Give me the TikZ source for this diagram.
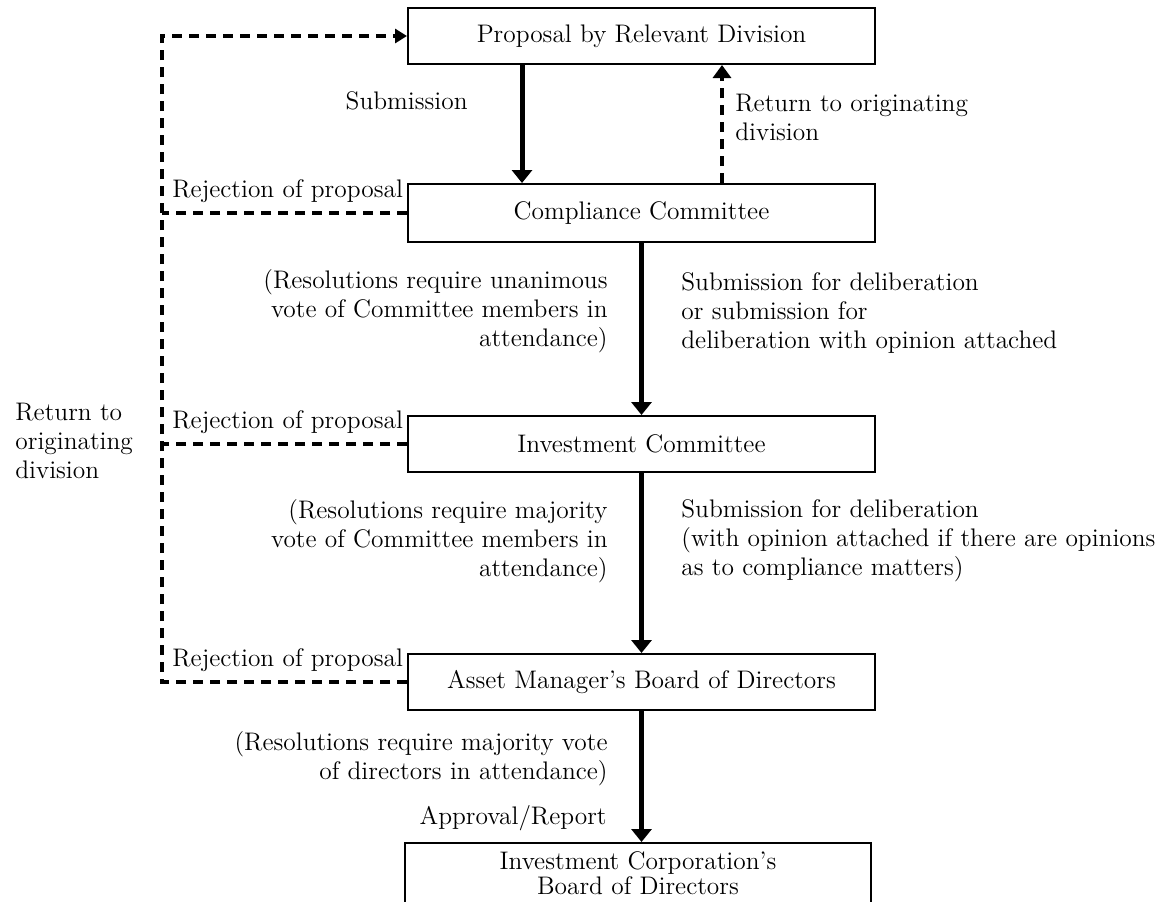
\documentclass[tikz,border=0pt]{standalone}
\usetikzlibrary{arrows.meta}
\begin{document}
\begin{tikzpicture}[x=0.5pt, y=-0.5pt, every node/.style={font=\fontsize{12.7}{14.5}\selectfont}, stage/.style={draw, line width=1pt, minimum width=233.5pt, minimum height=28pt, inner sep=0pt, align=center}, pass/.style={-{Triangle[width=10pt,length=6.5pt]}, line width=2.5pt}, reject/.style={line width=2pt, dash pattern=on 5pt off 3.5pt}, note/.style={inner sep=0pt}]
\useasboundingbox (0,0) rectangle (1166,901); \clip (0,0) rectangle (1166,901);
\node[stage] (prop) at (641.5,36) {Proposal by Relevant Division};
\node[stage, minimum height=29pt] (comp) at (641.5,213) {Compliance Committee};
\node[stage] (inv) at (641.5,444) {Investment Committee};
\node[stage] (amb) at (641.5,682) {Asset Manager's Board of Directors};
\node[stage, minimum width=233pt, minimum height=30pt] (icb) at (638,873) {Investment Corporation's\\[-2pt]Board of Directors};
\draw[pass] ([xshift=-59.75pt]prop.south) -- ([xshift=-59.75pt]comp.north);
\draw[pass] (comp) -- (inv); \draw[pass] (inv) -- (amb);
\draw[pass] (amb.south) -- (amb.south |- icb.north);
\draw[reject, -{Triangle[width=9pt,length=6.5pt]}] ([xshift=40.25pt]comp.north) -- ([xshift=40.25pt]prop.south);
\coordinate (corner) at (162,36);
\draw[reject, -{Triangle[width=7pt,length=6pt]}] (amb.west) -| (corner) -- (prop.west);
\draw[reject] (comp.west) -- (comp.west -| corner); \draw[reject] (inv.west) -- (inv.west -| corner);
\node[note, anchor=east] (subm) at (468,101) {Submission};
\node[note, anchor=west, align=left] (ret) at (735,117) {Return to originating\\division};
\node[note, anchor=west] (rej1) at (172,191) {Rejection of proposal};
\node[note, anchor=west] (rej2) at (172,422) {Rejection of proposal};
\node[note, anchor=west] (rej3) at (172,660) {Rejection of proposal};
\node[note, anchor=west, align=left] (retl) at (15,441) {Return to\\originating\\division};
\node[note, anchor=east, align=right] (vote1) at (608,311) {(Resolutions require unanimous\\vote of Committee members in\\attendance)};
\node[note, anchor=west, align=left] (fwd1) at (681,313) {Submission for deliberation\\or submission for\\deliberation with opinion attached};
\node[note, anchor=east, align=right] (vote2) at (608,541) {(Resolutions require majority\\vote of Committee members in\\attendance)};
\node[note, anchor=west, align=left] (fwd2) at (681,541) {Submission for deliberation\\(with opinion attached if there are opinions\\as to compliance matters)};
\node[note, anchor=east, align=right] (vote3) at (608,759) {(Resolutions require majority vote\\of directors in attendance)};
\node[note, anchor=east] (appr) at (607,818) {Approval/Report};
\end{tikzpicture}
\end{document}
